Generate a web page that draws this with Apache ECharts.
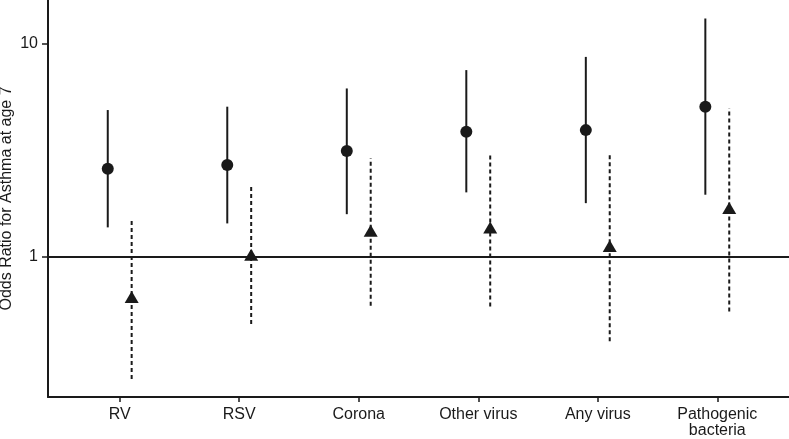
<!DOCTYPE html>
<html>
<head>
<meta charset="utf-8">
<script src="https://cdn.jsdelivr.net/npm/echarts@6/dist/echarts.min.js"></script>
<style>html,body{margin:0;padding:0;background:#fff}#c{width:789px;height:439px}</style>
</head>
<body>
<div id="c"></div>
<script>
const categories = ['RV', 'RSV', 'Corona', 'Other virus', 'Any virus', 'Pathogenic\nbacteria'];
const circleOR   = [2.58, 2.69, 3.13, 3.85, 3.92, 5.05];
const circleLow  = [1.37, 1.43, 1.58, 2.00, 1.78, 1.95];
const circleHigh = [4.87, 5.05, 6.15, 7.50, 8.65, 13.1];
const triOR      = [0.646, 1.02, 1.32, 1.37, 1.12, 1.69];
const triLow     = [0.266, 0.482, 0.587, 0.583, 0.40, 0.552];
const triHigh    = [1.51, 2.15, 2.89, 3.05, 3.00, 4.96];
const yTicks = [1, 10];

const OFF = 0.1;
const ink = '#1a1a1a';
const font = 'Liberation Sans, Arial, sans-serif';

function pts(vals, off) { return vals.map((v, i) => [i + off, v]); }
function bars(lo, hi, off) { return lo.map((v, i) => [i + off, v, hi[i]]); }

function errRender(dashed) {
  return function (params, api) {
    const x = api.value(0);
    const p1 = api.coord([x, api.value(1)]);
    const p2 = api.coord([x, api.value(2)]);
    return {
      type: 'line',
      shape: { x1: p1[0], y1: p1[1], x2: p2[0], y2: p2[1] },
      style: { stroke: ink, lineWidth: 2, lineDash: dashed ? [4, 3] : null }
    };
  };
}

const chart = echarts.init(document.getElementById('c'));
chart.setOption({
  animation: false,
  grid: { left: 48, right: 0, top: 0, bottom: 42, outerBoundsMode: 'none', containLabel: false },
  xAxis: {
    type: 'value', min: -0.6, max: 5.6,
    splitLine: { show: false },
    axisLine: { show: true, onZero: false, lineStyle: { color: ink, width: 2 } },
    axisTick: { show: true, customValues: [0, 1, 2, 3, 4, 5], length: 5, lineStyle: { color: ink, width: 1.5 } },
    axisLabel: {
      customValues: [0, 1, 2, 3, 4, 5],
      formatter: v => categories[Math.round(v)],
      color: ink, fontFamily: font, fontSize: 16, margin: 10, lineHeight: 16
    }
  },
  yAxis: {
    type: 'log', logBase: 10, min: 0.219, max: 16,
    name: 'Odds Ratio for Asthma at age 7',
    nameLocation: 'middle', nameGap: 33, nameMoveOverlap: false,
    nameTextStyle: { color: ink, fontFamily: font, fontSize: 16 },
    splitLine: { show: false },
    axisLine: { show: true, onZero: false, lineStyle: { color: ink, width: 2 } },
    axisTick: { show: true, customValues: yTicks, length: 6, lineStyle: { color: ink, width: 1.5 } },
    axisLabel: { customValues: yTicks, color: ink, fontFamily: font, fontSize: 16, margin: 10 }
  },
  series: [
    { type: 'custom', renderItem: errRender(false), data: bars(circleLow, circleHigh, -OFF),
      encode: { x: 0, y: [1, 2] }, z: 2 },
    { type: 'custom', renderItem: errRender(true), data: bars(triLow, triHigh, OFF),
      encode: { x: 0, y: [1, 2] }, z: 2 },
    { type: 'scatter', data: pts(circleOR, -OFF), symbol: 'circle', symbolSize: 12,
      itemStyle: { color: ink, opacity: 1 }, z: 3,
      markLine: { silent: true, symbol: 'none', label: { show: false },
        lineStyle: { color: ink, width: 2, type: 'solid', opacity: 1 }, data: [{ yAxis: 1 }] } },
    { type: 'scatter', data: pts(triOR, OFF), symbol: 'triangle', symbolSize: [14, 12],
      itemStyle: { color: ink, opacity: 1 }, z: 3 }
  ]
});
</script>
</body>
</html>
